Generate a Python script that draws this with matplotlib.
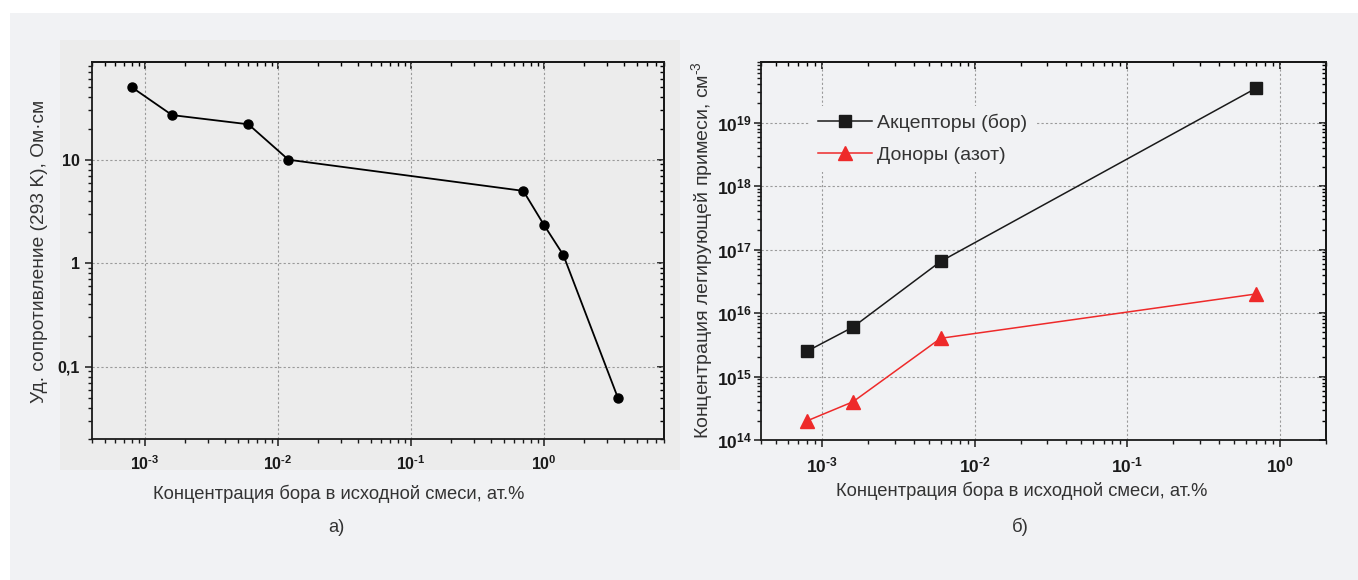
import matplotlib
matplotlib.use('Agg')
import matplotlib.pyplot as plt
from matplotlib.patches import Rectangle
from matplotlib.ticker import FixedLocator, FixedFormatter, NullFormatter, LogLocator

plt.rcParams['font.family'] = ['Liberation Sans', 'DejaVu Sans']
plt.rcParams['mathtext.fontset'] = 'custom'
plt.rcParams['mathtext.rm'] = 'Liberation Sans'
plt.rcParams['mathtext.bf'] = 'Liberation Sans:bold'

# --- data (а): resistivity vs boron content
x_rho = [8e-4, 1.6e-3, 6e-3, 1.2e-2, 0.7, 1.0, 1.4, 3.6]
rho = [50, 27, 22, 10, 5.0, 2.35, 1.2, 0.05]

# --- data (б): dopant concentration vs boron content
x_dop = [8e-4, 1.6e-3, 6e-3, 0.7]
acceptors = [2.5e15, 6e15, 6.5e16, 3.5e19]
donors = [2e14, 4e14, 4e15, 2e16]

xlabel = 'Концентрация бора в исходной смеси, ат.%'
ylabel_a = 'Уд. сопротивление (293 K), Ом·см'
ylabel_b = 'Концентрация легирующей примеси, см$^{\u2010 3}$'
leg_labels = ['Акцепторы (бор)', 'Доноры (азот)']

W, H = 1358, 580
fig = plt.figure(figsize=(W / 100, H / 100), dpi=100)
fig.patch.set_facecolor('white')

def px(x0, y0, x1, y1):
    return [x0 / W, 1 - y1 / H, (x1 - x0) / W, (y1 - y0) / H]

panel = '#f1f2f4'
txt = '#333333'
fig.patches.append(Rectangle((10 / W, 0), 1, 1 - 13 / H, transform=fig.transFigure,
                             facecolor=panel, edgecolor='none', zorder=-10))
fig.patches.append(Rectangle((60 / W, 1 - 470 / H), 620 / W, 430 / H, transform=fig.transFigure,
                             facecolor='#ececec', edgecolor='none', zorder=-9))

grid_kw = dict(color='#9a9a9a', linestyle=(0, (2, 2)), linewidth=0.8)


def style_axes(ax, xt, xtl, yt, ytl, fs, ypad):
    ax.set_xscale('log')
    ax.set_yscale('log')
    ax.set_facecolor('none')
    for s in ax.spines.values():
        s.set_linewidth(1.3)
        s.set_color('#1a1a1a')
    ax.xaxis.set_major_locator(FixedLocator(xt))
    ax.xaxis.set_major_formatter(FixedFormatter(xtl))
    ax.yaxis.set_major_locator(FixedLocator(yt))
    ax.yaxis.set_major_formatter(FixedFormatter(ytl))
    ax.tick_params(which='major', direction='out', length=5, width=1.1, color='#1a1a1a')
    ax.tick_params(which='minor', direction='out', length=3, width=1.0, color='#1a1a1a')
    ax.tick_params(axis='x', pad=6, labelsize=fs, labelcolor='#1a1a1a')
    ax.tick_params(axis='y', pad=ypad, labelsize=fs, labelcolor='#1a1a1a')
    for lab in ax.get_xticklabels() + ax.get_yticklabels():
        lab.set_fontweight('bold')
    ax.grid(True, which='major', **grid_kw)
    ax.set_axisbelow(True)
    # top / right ticks pointing inward
    sx = ax.secondary_xaxis('top')
    sx.xaxis.set_major_locator(FixedLocator(xt))
    sx.xaxis.set_major_formatter(NullFormatter())
    sx.xaxis.set_minor_formatter(NullFormatter())
    sx.tick_params(which='major', direction='in', length=5, width=1.1)
    sx.tick_params(which='minor', direction='in', length=3, width=1.0)
    sx.spines['top'].set_linewidth(1.3)
    sy = ax.secondary_yaxis('right')
    sy.yaxis.set_major_locator(FixedLocator(yt))
    sy.yaxis.set_major_formatter(NullFormatter())
    sy.yaxis.set_minor_formatter(NullFormatter())
    sy.tick_params(which='major', direction='in', length=5, width=1.1)
    sy.tick_params(which='minor', direction='in', length=3, width=1.0)
    sy.spines['right'].set_linewidth(1.3)
    return sy


xt_lab = [r'$\mathbf{10^{%s}}$' % s for s in ('\u20103', '\u20102', '\u20101', '0')]

# ---------------- panel а
ax1 = fig.add_axes(px(92, 62, 664, 439))
ax1.plot(x_rho, rho, color='black', linewidth=1.3, marker='o', markersize=6.5, zorder=3)
ax1.set_xlim(4e-4, 8)
ax1.set_ylim(0.02, 88)
style_axes(ax1, [1e-3, 1e-2, 1e-1, 1], xt_lab,
           [0.1, 1, 10], ['0,1', '1', '10'], 11.5, 4)

fig.text(40 / W, 1 - 251 / H, ylabel_a, rotation=90, ha='center', va='center',
         fontsize=13.8, color=txt)
fig.text(339 / W, 1 - 494 / H, xlabel, ha='center', va='center', fontsize=13.2, color=txt)
fig.text(336 / W, 1 - 527 / H, 'а)', ha='center', va='center', fontsize=13.2, color=txt)

# ---------------- panel б
ax2 = fig.add_axes(px(761, 62, 1326, 440))
la, = ax2.plot(x_dop, acceptors, color='#1a1a1a', linewidth=1.1, marker='s', markersize=8, zorder=3)
ld, = ax2.plot(x_dop, donors, color='#ee2a2a', linewidth=1.1, marker='^', markersize=9.5, zorder=3)
ax2.set_xlim(4e-4, 2)
ax2.set_ylim(1e14, 9e19)
sy2 = style_axes(ax2, [1e-3, 1e-2, 1e-1, 1], xt_lab,
                 [1e14, 1e15, 1e16, 1e17, 1e18, 1e19],
                 [r'$\mathbf{10^{%d}}$' % p for p in range(14, 20)], 12.5, 1.5)
ax2.yaxis.set_minor_locator(LogLocator(base=10, subs=range(2, 10), numticks=20))

leg = ax2.legend([la, ld], leg_labels, loc='upper left',
                 bbox_to_anchor=(800 / W, 1 - 96 / H), bbox_transform=fig.transFigure,
                 fontsize=14, handlelength=2.8, handletextpad=0.25, labelspacing=0.75,
                 frameon=True, facecolor=panel, edgecolor='none', framealpha=1,
                 borderpad=0.4)
for t in leg.get_texts():
    t.set_color(txt)

fig.text(703 / W, 1 - 250 / H, ylabel_b, rotation=90, ha='center', va='center',
         fontsize=14, color=txt)
fig.text(1022 / W, 1 - 491 / H, xlabel, ha='center', va='center', fontsize=13.2, color=txt)
fig.text(1020 / W, 1 - 527 / H, 'б)', ha='center', va='center', fontsize=13.2, color=txt)

fig.savefig('out.png', dpi=100, facecolor=fig.get_facecolor())
